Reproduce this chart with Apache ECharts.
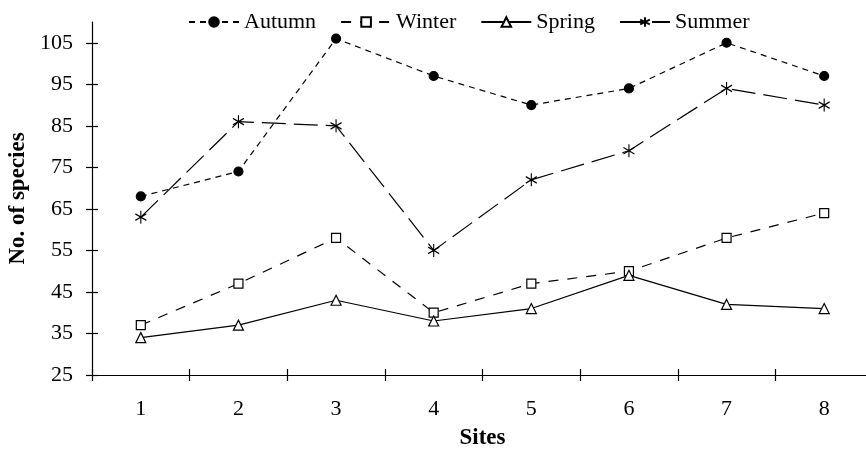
<!DOCTYPE html>
<html>
<head>
<meta charset="utf-8">
<script src="https://cdn.jsdelivr.net/npm/echarts@6/dist/echarts.min.js"></script>
<style>html,body{margin:0;padding:0;background:#fff}#c{width:866px;height:452px}</style>
</head>
<body>
<div id="c"></div>
<script>
var sites = ['1','2','3','4','5','6','7','8'];
var yTicks = [25,35,45,55,65,75,85,95,105];
var autumn = [68,74,106,97,90,94,105,97];
var winter = [37,47,58,40,47,50,58,64];
var spring = [34,37,43,38,41,49,42,41];
var summer = [63,86,85,55,72,79,94,90];

var FONT = '"Liberation Serif", "Times New Roman", serif';
var chart = echarts.init(document.getElementById('c'), null, {renderer:'canvas'});
var star = 'path://M0,0 L0,20 M-8.66,5 L8.66,15 M-8.66,15 L8.66,5';
function mk(name, data, symbol, size, dash, fill){
  return {
    name: name, type: 'line', data: data, xAxisIndex: 0, yAxisIndex: 0,
    symbol: symbol, symbolSize: size, showAllSymbol: true,
    lineStyle: {color:'#000', width:1.2, type: dash},
    itemStyle: {color: fill, borderColor:'#000', borderWidth: 1.2},
    emphasis: {disabled:true}, animation:false, z: 3
  };
}
chart.setOption({
  animation:false,
  backgroundColor:'#fff',
  textStyle:{fontFamily:FONT, color:'#000'},
  legend:{
    top: 6, left: 183, itemWidth: 50, itemHeight: 12, itemGap: 24,
    textStyle:{fontFamily:FONT, fontSize:22, color:'#000'},
    data:['Autumn','Winter','Spring','Summer']
  },
  grid:{left:92, right:-7, top:22, bottom:77, containLabel:false, outerBoundsMode:'none'},
  xAxis:[{
    type:'category', data:sites, boundaryGap:true,
    axisLine:{lineStyle:{color:'#000', width:1.2}},
    axisTick:{show:true, length:6, lineStyle:{color:'#000', width:1.2}},
    axisLabel:{fontFamily:FONT, fontSize:22, color:'#000', margin:23},
    name:'Sites', nameLocation:'middle', nameGap:52,
    nameTextStyle:{fontFamily:FONT, fontSize:23, fontWeight:'bold', color:'#000'}
  },{
    type:'category', data:sites, boundaryGap:true, position:'bottom',
    axisLine:{show:false},
    axisTick:{show:true, inside:true, length:6, lineStyle:{color:'#000', width:1.2}},
    axisLabel:{show:false}
  }],
  yAxis:[{
    type:'value', min:25, max:110,
    axisLine:{show:true, lineStyle:{color:'#000', width:1.2}},
    axisTick:{show:true, length:6, customValues: yTicks, lineStyle:{color:'#000', width:1.2}},
    axisLabel:{fontFamily:FONT, fontSize:22, color:'#000', margin:19, customValues: yTicks},
    splitLine:{show:false},
    name:'No. of species', nameLocation:'middle', nameGap:59, nameRotate:90,
    nameTextStyle:{fontFamily:FONT, fontSize:23, fontWeight:'bold', color:'#000'}
  },{
    type:'value', min:25, max:110, position:'left',
    axisLine:{show:false},
    axisTick:{show:true, inside:true, length:6, customValues: yTicks, lineStyle:{color:'#000', width:1.2}},
    axisLabel:{show:false}, splitLine:{show:false}
  }],
  series:[
    mk('Autumn', autumn, 'circle', 9, [6,5], '#000'),
    mk('Winter', winter, 'rect', 9, [10,9], '#fff'),
    mk('Spring', spring, 'triangle', 10, 'solid', '#fff'),
    mk('Summer', summer, star, [11,13], [24,8], '#fff')
  ]
});
</script>
</body>
</html>
